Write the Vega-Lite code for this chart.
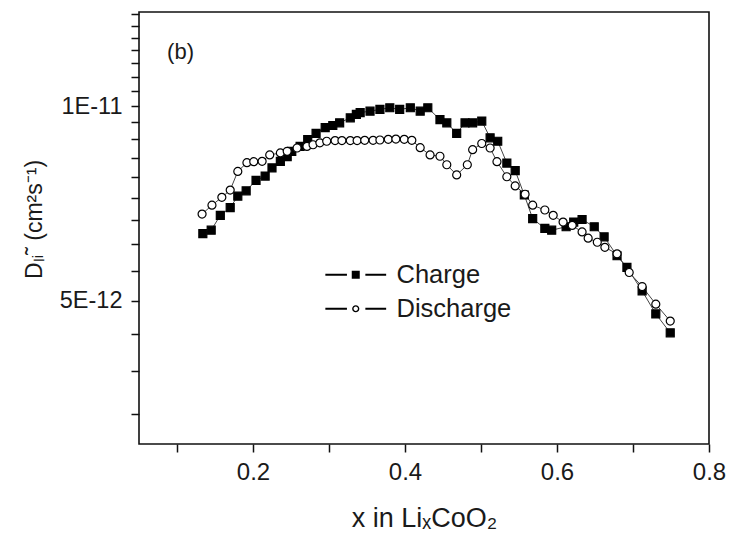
{
  "$schema": "https://vega.github.io/schema/vega-lite/v6.json",
  "width": 570,
  "height": 432,
  "autosize": {"type": "none"},
  "padding": {"left": 139, "top": 12, "right": 20, "bottom": 91},
  "background": "white",
  "config": {
    "font": "Liberation Sans",
    "view": {"stroke": "#111", "strokeWidth": 1.6},
    "axis": {"domain": false, "grid": false, "tickColor": "#111", "tickWidth": 1.5, "labelColor": "#1a1a1a", "titleColor": "#1a1a1a", "labelFont": "Liberation Sans", "titleFont": "Liberation Sans", "titleFontWeight": "normal", "labelFlush": false, "labelOverlap": false}
  },
  "datasets": {
    "pts": [
      {"s": "Charge", "x": 0.134, "D": 6.35e-12},
      {"s": "Charge", "x": 0.145, "D": 6.43e-12},
      {"s": "Charge", "x": 0.157, "D": 6.78e-12},
      {"s": "Charge", "x": 0.170, "D": 6.97e-12},
      {"s": "Charge", "x": 0.180, "D": 7.26e-12},
      {"s": "Charge", "x": 0.191, "D": 7.40e-12},
      {"s": "Charge", "x": 0.204, "D": 7.68e-12},
      {"s": "Charge", "x": 0.216, "D": 7.80e-12},
      {"s": "Charge", "x": 0.225, "D": 8.03e-12},
      {"s": "Charge", "x": 0.236, "D": 8.22e-12},
      {"s": "Charge", "x": 0.245, "D": 8.36e-12},
      {"s": "Charge", "x": 0.251, "D": 8.52e-12},
      {"s": "Charge", "x": 0.262, "D": 8.67e-12},
      {"s": "Charge", "x": 0.272, "D": 8.88e-12},
      {"s": "Charge", "x": 0.283, "D": 9.08e-12},
      {"s": "Charge", "x": 0.295, "D": 9.27e-12},
      {"s": "Charge", "x": 0.305, "D": 9.34e-12},
      {"s": "Charge", "x": 0.314, "D": 9.43e-12},
      {"s": "Charge", "x": 0.328, "D": 9.60e-12},
      {"s": "Charge", "x": 0.336, "D": 9.72e-12},
      {"s": "Charge", "x": 0.341, "D": 9.78e-12},
      {"s": "Charge", "x": 0.354, "D": 9.83e-12},
      {"s": "Charge", "x": 0.367, "D": 9.89e-12},
      {"s": "Charge", "x": 0.380, "D": 9.95e-12},
      {"s": "Charge", "x": 0.393, "D": 9.89e-12},
      {"s": "Charge", "x": 0.407, "D": 9.95e-12},
      {"s": "Charge", "x": 0.420, "D": 9.83e-12},
      {"s": "Charge", "x": 0.430, "D": 9.95e-12},
      {"s": "Charge", "x": 0.446, "D": 9.54e-12},
      {"s": "Charge", "x": 0.455, "D": 9.43e-12},
      {"s": "Charge", "x": 0.468, "D": 9.08e-12},
      {"s": "Charge", "x": 0.479, "D": 9.43e-12},
      {"s": "Charge", "x": 0.489, "D": 9.43e-12},
      {"s": "Charge", "x": 0.501, "D": 9.49e-12},
      {"s": "Charge", "x": 0.512, "D": 8.94e-12},
      {"s": "Charge", "x": 0.522, "D": 8.83e-12},
      {"s": "Charge", "x": 0.534, "D": 8.17e-12},
      {"s": "Charge", "x": 0.545, "D": 7.95e-12},
      {"s": "Charge", "x": 0.557, "D": 7.29e-12},
      {"s": "Charge", "x": 0.568, "D": 6.70e-12},
      {"s": "Charge", "x": 0.584, "D": 6.47e-12},
      {"s": "Charge", "x": 0.593, "D": 6.43e-12},
      {"s": "Charge", "x": 0.612, "D": 6.51e-12},
      {"s": "Charge", "x": 0.622, "D": 6.62e-12},
      {"s": "Charge", "x": 0.633, "D": 6.68e-12},
      {"s": "Charge", "x": 0.649, "D": 6.51e-12},
      {"s": "Charge", "x": 0.662, "D": 6.28e-12},
      {"s": "Charge", "x": 0.679, "D": 5.87e-12},
      {"s": "Charge", "x": 0.692, "D": 5.63e-12},
      {"s": "Charge", "x": 0.712, "D": 5.18e-12},
      {"s": "Charge", "x": 0.730, "D": 4.77e-12},
      {"s": "Charge", "x": 0.749, "D": 4.46e-12},
      {"s": "Discharge", "x": 0.133, "D": 6.81e-12},
      {"s": "Discharge", "x": 0.146, "D": 7.03e-12},
      {"s": "Discharge", "x": 0.159, "D": 7.23e-12},
      {"s": "Discharge", "x": 0.170, "D": 7.42e-12},
      {"s": "Discharge", "x": 0.180, "D": 7.93e-12},
      {"s": "Discharge", "x": 0.192, "D": 8.18e-12},
      {"s": "Discharge", "x": 0.201, "D": 8.21e-12},
      {"s": "Discharge", "x": 0.212, "D": 8.22e-12},
      {"s": "Discharge", "x": 0.222, "D": 8.41e-12},
      {"s": "Discharge", "x": 0.236, "D": 8.47e-12},
      {"s": "Discharge", "x": 0.245, "D": 8.52e-12},
      {"s": "Discharge", "x": 0.258, "D": 8.62e-12},
      {"s": "Discharge", "x": 0.271, "D": 8.67e-12},
      {"s": "Discharge", "x": 0.279, "D": 8.72e-12},
      {"s": "Discharge", "x": 0.288, "D": 8.78e-12},
      {"s": "Discharge", "x": 0.297, "D": 8.83e-12},
      {"s": "Discharge", "x": 0.308, "D": 8.85e-12},
      {"s": "Discharge", "x": 0.317, "D": 8.85e-12},
      {"s": "Discharge", "x": 0.328, "D": 8.85e-12},
      {"s": "Discharge", "x": 0.337, "D": 8.85e-12},
      {"s": "Discharge", "x": 0.347, "D": 8.86e-12},
      {"s": "Discharge", "x": 0.358, "D": 8.86e-12},
      {"s": "Discharge", "x": 0.367, "D": 8.87e-12},
      {"s": "Discharge", "x": 0.378, "D": 8.89e-12},
      {"s": "Discharge", "x": 0.388, "D": 8.90e-12},
      {"s": "Discharge", "x": 0.399, "D": 8.89e-12},
      {"s": "Discharge", "x": 0.409, "D": 8.86e-12},
      {"s": "Discharge", "x": 0.420, "D": 8.63e-12},
      {"s": "Discharge", "x": 0.433, "D": 8.41e-12},
      {"s": "Discharge", "x": 0.446, "D": 8.37e-12},
      {"s": "Discharge", "x": 0.455, "D": 8.12e-12},
      {"s": "Discharge", "x": 0.468, "D": 7.83e-12},
      {"s": "Discharge", "x": 0.482, "D": 8.12e-12},
      {"s": "Discharge", "x": 0.489, "D": 8.57e-12},
      {"s": "Discharge", "x": 0.501, "D": 8.76e-12},
      {"s": "Discharge", "x": 0.512, "D": 8.62e-12},
      {"s": "Discharge", "x": 0.521, "D": 8.21e-12},
      {"s": "Discharge", "x": 0.534, "D": 7.78e-12},
      {"s": "Discharge", "x": 0.545, "D": 7.53e-12},
      {"s": "Discharge", "x": 0.558, "D": 7.31e-12},
      {"s": "Discharge", "x": 0.568, "D": 7.03e-12},
      {"s": "Discharge", "x": 0.584, "D": 6.91e-12},
      {"s": "Discharge", "x": 0.595, "D": 6.78e-12},
      {"s": "Discharge", "x": 0.608, "D": 6.62e-12},
      {"s": "Discharge", "x": 0.620, "D": 6.54e-12},
      {"s": "Discharge", "x": 0.633, "D": 6.39e-12},
      {"s": "Discharge", "x": 0.641, "D": 6.25e-12},
      {"s": "Discharge", "x": 0.653, "D": 6.16e-12},
      {"s": "Discharge", "x": 0.663, "D": 6.05e-12},
      {"s": "Discharge", "x": 0.679, "D": 5.91e-12},
      {"s": "Discharge", "x": 0.695, "D": 5.53e-12},
      {"s": "Discharge", "x": 0.712, "D": 5.26e-12},
      {"s": "Discharge", "x": 0.730, "D": 4.94e-12},
      {"s": "Discharge", "x": 0.749, "D": 4.65e-12}
    ],
    "ann": [{"label": "(b)", "x": 0.087, "D": 1.214e-11}]
  },
  "layer": [
    {
      "data": {"name": "pts"},
      "mark": {"type": "line", "color": "#444", "strokeWidth": 1, "opacity": 1},
      "encoding": {
        "x": {"field": "x", "type": "quantitative", "scale": {"domain": [0.05, 0.8], "nice": false, "zero": false},
              "axis": {"orient": "bottom", "values": [0.1, 0.2, 0.3, 0.4, 0.5, 0.6, 0.7, 0.8],
                       "labelExpr": "indexof([0.2, 0.4, 0.6, 0.8], datum.value) >= 0 ? format(datum.value, '.1f') : ''",
                       "tickSize": 8, "labelPadding": 8, "labelFontSize": 24, "title": "x in LiₓCoO₂", "titleFontSize": 27, "titlePadding": 21,
                       "encode": {"ticks": {"update": {"y2": {"signal": "indexof([0.2, 0.4, 0.6, 0.8], datum.value) >= 0 ? 8 : 5"}}}}}},
        "y": {"field": "D", "type": "quantitative", "scale": {"type": "log", "domain": [3e-12, 1.4e-11], "nice": false},
              "axis": {"orient": "left", "values": [3.333e-12, 3.889e-12, 4.444e-12, 5e-12, 5.556e-12, 6.111e-12, 6.667e-12, 7.222e-12, 7.778e-12, 8.333e-12, 8.889e-12, 9.444e-12, 1e-11, 1.0556e-11, 1.1111e-11, 1.1667e-11, 1.2222e-11, 1.2778e-11, 1.3333e-11, 1.3889e-11],
                       "labelExpr": "datum.value == 1e-11 ? '1E-11' : (datum.value == 5e-12 ? '5E-12' : '')",
                       "tickSize": 8, "labelPadding": 9, "labelFontSize": 23.5, "title": "Dₗᵢ˜ (cm²s⁻¹)", "titleFontSize": 23, "titleAngle": -90, "titleX": -105, "titleY": 207, "titleAlign": "center", "titleBaseline": "middle",
                       "encode": {"ticks": {"update": {"x2": {"signal": "indexof([5e-12, 1e-11], datum.value) >= 0 ? -8 : -5"}}}}}},
        "detail": {"field": "s"}
      }
    },
    {
      "data": {"name": "pts"},
      "mark": {"type": "point", "filled": true, "size": 64, "stroke": "black", "strokeWidth": 1.2, "opacity": 1},
      "encoding": {
        "x": {"field": "x", "type": "quantitative"},
        "y": {"field": "D", "type": "quantitative"},
        "shape": {"field": "s", "type": "nominal", "scale": {"domain": ["Charge", "Discharge"], "range": ["square", "circle"]}, "legend": null},
        "fill": {"field": "s", "type": "nominal", "scale": {"domain": ["Charge", "Discharge"], "range": ["black", "white"]}, "legend": null}
      }
    },
    {
      "data": {"name": "pts"},
      "transform": [{"filter": "false"}],
      "mark": {"type": "point", "filled": true, "color": "black", "opacity": 1},
      "encoding": {
        "x": {"field": "x", "type": "quantitative"},
        "y": {"field": "D", "type": "quantitative"},
        "shape": {"field": "s", "type": "nominal",
          "scale": {"domain": ["Charge", "Discharge"], "range": [
            "M-7.6,-0.22H-2.2V0.22H-7.6Z M-1,-1H1V1H-1Z M2.4,-0.22H7.6V0.22H2.4Z",
            "M-7.6,-0.22H-2.2V0.22H-7.6Z M-0.9,0A0.9,0.9,0,1,0,0.9,0A0.9,0.9,0,1,0,-0.9,0Z M-0.55,0A0.55,0.55,0,1,1,0.55,0A0.55,0.55,0,1,1,-0.55,0Z M2.4,-0.22H7.6V0.22H2.4Z"
          ]},
          "legend": {"orient": "none", "legendX": 204, "legendY": 250, "title": null, "padding": 0, "symbolSize": 64, "symbolStrokeWidth": 0, "symbolFillColor": "black", "symbolOpacity": 1, "labelFontSize": 25.5, "labelOffset": 28, "rowPadding": 7, "labelColor": "#1a1a1a", "labelFont": "Liberation Sans", "labelLimit": 300}
        }
      }
    },
    {
      "data": {"name": "ann"},
      "mark": {"type": "text", "align": "left", "baseline": "middle", "fontSize": 22, "color": "#1a1a1a"},
      "encoding": {
        "x": {"field": "x", "type": "quantitative"},
        "y": {"field": "D", "type": "quantitative"},
        "text": {"field": "label"}
      }
    }
  ],
  "resolve": {"scale": {"shape": "independent"}}
}
